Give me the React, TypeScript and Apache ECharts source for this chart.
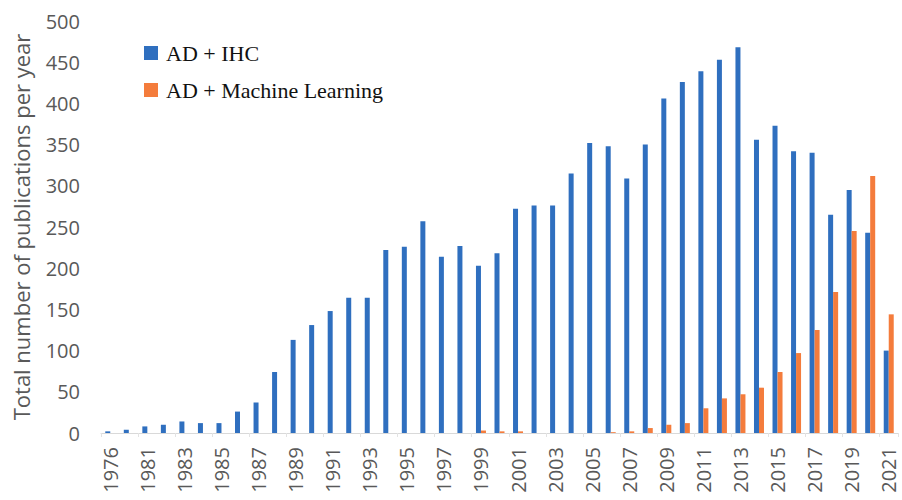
import React, { useEffect, useRef } from "react";
import * as echarts from "echarts";

const years = [
  "1976", "1980", "1981", "1982", "1983", "1984", "1985", "1986", "1987", "1988",
  "1989", "1990", "1991", "1992", "1993", "1994", "1995", "1996", "1997", "1998",
  "1999", "2000", "2001", "2002", "2003", "2004", "2005", "2006", "2007", "2008",
  "2009", "2010", "2011", "2012", "2013", "2014", "2015", "2016", "2017", "2018",
  "2019", "2020", "2021",
];

const adIhc = [
  2, 4, 8, 10, 14, 12, 12, 26, 37, 74,
  113, 131, 148, 164, 164, 222, 226, 257, 214, 227,
  203, 218, 272, 276, 276, 315, 352, 348, 309, 350,
  406, 426, 439, 453, 468, 356, 373, 342, 340, 265,
  295, 243, 100,
];

const adMl = [
  0, 0, 0, 0, 0, 0, 0, 0, 0, 0,
  0, 0, 0, 0, 0, 0, 0, 0, 0, 0,
  3, 2, 2, 0, 0, 0, 0, 1, 2, 6,
  10, 12, 30, 42, 47, 55, 74, 97, 125, 171,
  245, 312, 144,
];

const seriesNames = ["AD + IHC", "AD + Machine Learning"];
const colors = ["#2F6FBF", "#F47C3C"];

export default function App() {
  const ref = useRef<HTMLDivElement>(null);
  useEffect(() => {
    if (!ref.current) return;
    const chart = echarts.init(ref.current, undefined, { renderer: "svg" });
    chart.setOption({
      animation: false,
      backgroundColor: "#ffffff",
      grid: { left: 101, right: 4, top: 21, bottom: 67, containLabel: false },
      legend: {
        orient: "vertical",
        left: 139,
        top: 37,
        itemWidth: 14,
        itemHeight: 14,
        itemGap: 15,
        icon: "rect",
        data: seriesNames,
        textStyle: {
          fontFamily: "Liberation Serif",
          fontSize: 22,
          color: "#111111",
          padding: [0, 0, 0, 3],
        },
      },
      xAxis: {
        type: "category",
        data: years,
        axisLine: { show: true, lineStyle: { color: "#d9d9d9", width: 1 } },
        axisTick: { show: true, length: 4, lineStyle: { color: "#e3e3e3" } },
        axisLabel: {
          interval: 1,
          rotate: 90,
          margin: 14,
          fontFamily: "Open Sans",
          fontSize: 20,
          color: "#595959",
        },
      },
      yAxis: {
        type: "value",
        min: 0,
        max: 500,
        interval: 50,
        name: "Total number of publications per year",
        nameLocation: "middle",
        nameRotate: 90,
        nameGap: 69,
        nameTextStyle: {
          fontFamily: "Open Sans",
          fontSize: 22,
          color: "#595959",
        },
        axisLine: { show: false },
        axisTick: { show: false },
        splitLine: { show: false },
        axisLabel: {
          margin: 21,
          fontFamily: "Open Sans",
          fontSize: 20,
          color: "#595959",
        },
      },
      series: [
        {
          name: seriesNames[0],
          type: "bar",
          data: adIhc,
          barWidth: 5,
          barGap: "0%",
          itemStyle: { color: colors[0] },
        },
        {
          name: seriesNames[1],
          type: "bar",
          data: adMl,
          barWidth: 5,
          barGap: "0%",
          itemStyle: { color: colors[1] },
        },
      ],
    });
    return () => chart.dispose();
  }, []);
  return (
    <div
      ref={ref}
      style={{ position: "fixed", left: 0, top: 0, width: 902, height: 500 }}
    />
  );
}
